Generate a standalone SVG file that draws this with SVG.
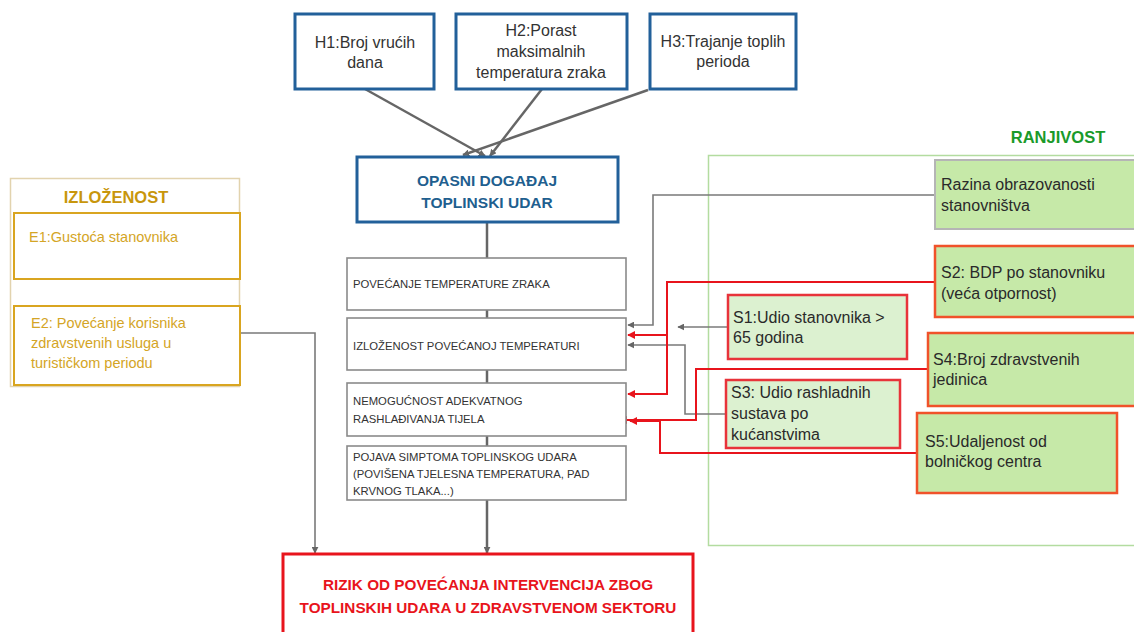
<svg xmlns="http://www.w3.org/2000/svg" width="1134" height="632" viewBox="0 0 1134 632">
<style>
.hbox{fill:#fff;stroke:#22609a;stroke-width:3}
.htxt{font-family:"Liberation Sans",Arial,sans-serif;font-size:16px;fill:#333;text-anchor:middle}
.chain{fill:#fff;stroke:#8a8a8a;stroke-width:1.6}
.ctxt{font-family:"Liberation Sans",Arial,sans-serif;font-size:11.3px;fill:#333}
.ebox{fill:#fff;stroke:#d9a520;stroke-width:2}
.etxt{font-family:"Liberation Sans",Arial,sans-serif;font-size:14.5px;fill:#d4a526}
.sgreen{fill:#c6e9a8}
.slight{fill:#dcf1d0;stroke:#e8333a;stroke-width:2.5}
.sorange{fill:#c6e9a8;stroke:#f0522a;stroke-width:2.5}
.stxt{font-family:"Liberation Sans",Arial,sans-serif;font-size:16px;fill:#2a2a2a}
.gray{fill:none;stroke:#7a7a7a;stroke-width:1.6}
.dgray{fill:none;stroke:#666;stroke-width:2.5}
.red{fill:none;stroke:#e8141c;stroke-width:2}
.bold{font-family:"Liberation Sans",Arial,sans-serif;font-weight:bold;text-anchor:middle}
</style>
<defs>
<marker id="ag" viewBox="0 0 10 10" refX="9" refY="5" markerWidth="7" markerHeight="7" markerUnits="userSpaceOnUse" orient="auto"><path d="M0,0 L10,5 L0,10 z" fill="#666"/></marker>
<marker id="ar" viewBox="0 0 10 10" refX="9" refY="5" markerWidth="8" markerHeight="8" markerUnits="userSpaceOnUse" orient="auto"><path d="M0,0 L10,5 L0,10 z" fill="#e8141c"/></marker>
</defs>
<rect width="1134" height="632" fill="#fff"/>

<!-- RANJIVOST container -->
<g id="ranjivost">
<rect x="708.5" y="155.5" width="440" height="390" fill="none" stroke="#b3dca0" stroke-width="1.5"/>
<text x="1058" y="143" class="bold" font-size="16.5" fill="#1a9a2a">RANJIVOST</text>
</g>

<!-- IZLOZENOST container -->
<g id="izlozenost">
<rect x="10.5" y="178.5" width="229" height="208" fill="#fff" stroke="#e2d3ae" stroke-width="1.5"/>
<text x="116" y="203" class="bold" font-size="16.5" fill="#c8960c">IZLOŽENOST</text>
</g>

<g id="connectors">
<path class="dgray" d="M365,89 L485,156" marker-end="url(#ag)"/>
<path class="dgray" d="M542,89 L490,156" marker-end="url(#ag)"/>
<path class="dgray" d="M648,90 L463,155" marker-end="url(#ag)"/>
<path class="dgray" d="M487,222 V258"/>
<path class="dgray" d="M487,310 V318"/>
<path class="dgray" d="M487,370 V383"/>
<path class="dgray" d="M487,436 V446"/>
<path class="dgray" d="M487,500 V553" marker-end="url(#ag)"/>
<path class="gray" d="M240,333 H315 V553" marker-end="url(#ag)"/>
<path class="gray" d="M935,195 H653 V325 H628" marker-end="url(#ag)"/>
<path class="gray" d="M728,327 H678" marker-end="url(#ag)"/>
<path class="gray" d="M726,414 H685 V345 H628" marker-end="url(#ag)"/>
<path class="red" d="M935,282 H667 V394 H628" marker-end="url(#ar)"/>
<path class="red" d="M667,335 H628" marker-end="url(#ar)"/>
<path class="red" d="M928,369 H696 V420 H620" marker-end="url(#ar)"/>
<path class="red" d="M917,453 H660 V421 H630" marker-end="url(#ar)"/>
</g>

<g id="h1"><rect class="hbox" x="295" y="14" width="139" height="75"/>
<text class="htxt" x="365" y="48">H1:Broj vrućih</text><text class="htxt" x="365" y="68">dana</text></g>
<g id="h2"><rect class="hbox" x="456" y="14" width="171" height="75"/>
<text class="htxt" x="541" y="36">H2:Porast</text><text class="htxt" x="541" y="57">maksimalnih</text><text class="htxt" x="541" y="78">temperatura zraka</text></g>
<g id="h3"><rect class="hbox" x="650" y="14" width="146" height="75"/>
<text class="htxt" x="723" y="47">H3:Trajanje toplih</text><text class="htxt" x="723" y="67">perioda</text></g>

<g id="opasni"><rect class="hbox" x="357" y="157" width="261" height="65"/>
<text class="bold" x="487" y="186" font-size="15.5" fill="#1f5f8f">OPASNI DOGAĐAJ</text>
<text class="bold" x="487" y="208" font-size="15.5" fill="#1f5f8f">TOPLINSKI UDAR</text></g>

<g id="c1"><rect class="chain" x="347" y="258" width="279" height="52"/>
<text class="ctxt" x="353" y="288">POVEĆANJE TEMPERATURE ZRAKA</text></g>
<g id="c2"><rect class="chain" x="347" y="318" width="279" height="52"/>
<text class="ctxt" x="353" y="350">IZLOŽENOST POVEĆANOJ TEMPERATURI</text></g>
<g id="c3"><rect class="chain" x="347" y="383" width="279" height="53"/>
<text class="ctxt" x="353" y="405">NEMOGUĆNOST ADEKVATNOG</text><text class="ctxt" x="353" y="423">RASHLAĐIVANJA TIJELA</text></g>
<g id="c4"><rect class="chain" x="347" y="446" width="279" height="54"/>
<text class="ctxt" x="353" y="461">POJAVA SIMPTOMA TOPLINSKOG UDARA</text><text class="ctxt" x="353" y="478">(POVIŠENA TJELESNA TEMPERATURA, PAD</text><text class="ctxt" x="353" y="495">KRVNOG TLAKA...)</text></g>

<g id="rizik"><rect x="283" y="554" width="410" height="90" fill="#fff" stroke="#e8141c" stroke-width="3"/>
<text class="bold" x="488" y="590" font-size="15.3" fill="#e8141c">RIZIK OD POVEĆANJA INTERVENCIJA ZBOG</text>
<text class="bold" x="488" y="613" font-size="15.3" fill="#e8141c">TOPLINSKIH UDARA U ZDRAVSTVENOM SEKTORU</text></g>

<g id="e1"><rect class="ebox" x="14" y="213" width="226" height="66"/>
<text class="etxt" x="29" y="242">E1:Gustoća stanovnika</text></g>
<g id="e2"><rect class="ebox" x="14" y="306" width="226" height="79"/>
<text class="etxt" x="31" y="328">E2: Povećanje korisnika</text><text class="etxt" x="31" y="348">zdravstvenih usluga u</text><text class="etxt" x="31" y="368">turističkom periodu</text></g>

<g id="razina"><rect class="sgreen" x="935" y="160" width="210" height="69" stroke="#b5b5b5" stroke-width="2"/>
<text class="stxt" x="941" y="190">Razina obrazovanosti</text><text class="stxt" x="941" y="211">stanovništva</text></g>
<g id="s2"><rect class="sorange" x="935" y="246" width="210" height="71"/>
<text class="stxt" x="941" y="278">S2: BDP po stanovniku</text><text class="stxt" x="941" y="299">(veća otpornost)</text></g>
<g id="s1"><rect class="slight" x="728" y="295" width="179" height="64"/>
<text class="stxt" x="733" y="323">S1:Udio stanovnika &gt;</text><text class="stxt" x="733" y="343">65 godina</text></g>
<g id="s4"><rect class="sorange" x="928" y="333" width="215" height="73"/>
<text class="stxt" x="933" y="365">S4:Broj zdravstvenih</text><text class="stxt" x="933" y="385">jedinica</text></g>
<g id="s3"><rect class="slight" x="726" y="380" width="174" height="68"/>
<text class="stxt" x="731" y="398">S3: Udio rashladnih</text><text class="stxt" x="731" y="419">sustava po</text><text class="stxt" x="731" y="440">kućanstvima</text></g>
<g id="s5"><rect class="sorange" x="917" y="413" width="200" height="80"/>
<text class="stxt" x="925" y="447">S5:Udaljenost od</text><text class="stxt" x="925" y="467">bolničkog centra</text></g>
</svg>
